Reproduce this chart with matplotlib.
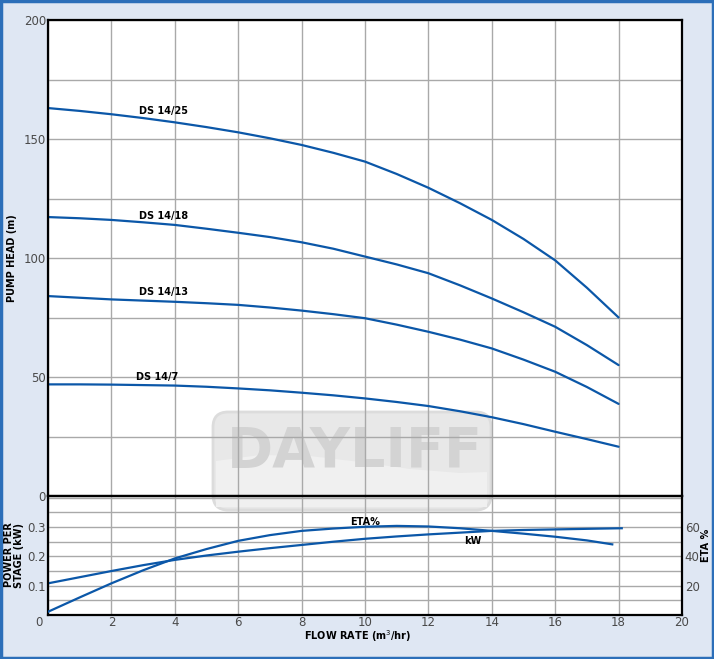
import matplotlib
matplotlib.use('Agg')
import matplotlib.pyplot as plt
from matplotlib.patches import Rectangle, FancyBboxPatch, Polygon
from matplotlib.transforms import ScaledTranslation
from matplotlib import font_manager

# flow rate points (m3/hr)
flow = [0, 1, 2, 3, 4, 5, 6, 7, 8, 9, 10, 11, 12, 13, 14, 15, 16, 17, 18]

# pump head curves (m)
head_25 = [163, 161.8, 160.4, 158.8, 157, 155, 152.8, 150.3, 147.5, 144.2,
           140.5, 135.3, 129.5, 123, 116, 108, 99, 87.5, 75]
head_18 = [117.2, 116.7, 116, 115, 113.9, 112.3, 110.6, 108.8, 106.6, 103.9,
           100.6, 97.3, 93.6, 88.5, 83, 77.2, 71.1, 63.4, 55]
head_13 = [84, 83.3, 82.6, 82.1, 81.6, 81, 80.3, 79.2, 77.9, 76.4,
           74.7, 72, 69, 65.7, 62, 57.3, 52.2, 45.8, 38.7]
head_7 = [46.9, 46.9, 46.8, 46.6, 46.4, 45.9, 45.2, 44.4, 43.4, 42.3,
          41, 39.5, 37.8, 35.6, 33.1, 30.2, 27, 23.9, 20.7]
curve_names = ['DS 14/25', 'DS 14/18', 'DS 14/13', 'DS 14/7']

# power per stage (kW)
flow_kw = [0, 1, 2, 3, 4, 5, 6, 7, 8, 9, 10, 11, 12, 13, 14, 15, 16, 17, 18.1]
power_kw = [0.108, 0.129, 0.150, 0.170, 0.188, 0.203, 0.216, 0.228, 0.239, 0.250,
            0.260, 0.268, 0.275, 0.281, 0.287, 0.290, 0.292, 0.294, 0.296]

# efficiency (%)
flow_eta = [0, 1, 2, 3, 4, 5, 6, 7, 8, 9, 10, 11, 12, 13, 14, 15, 16, 17, 17.8]
eta = [2.2, 12, 21.6, 30.5, 38.6, 45, 50.6, 54.5, 57.4, 59, 60.2, 60.8, 60.4,
       59.2, 57.4, 55.5, 53.4, 50.9, 48.2]

blue = '#0b57a8'
gridc = '#a9a9a9'
tickc = '#4a4a4a'
tick_fs = 8.5
lab_fs = 7

fig = plt.figure(figsize=(7.14, 6.59), dpi=100)
fig.patch.set_facecolor('#dfe7f3')

# outer blue frame
fig.patches.append(Rectangle((0.002, 0.002), 0.996, 0.996, transform=fig.transFigure,
                             facecolor='none', edgecolor='#2c6fb9', lw=2.5, zorder=-5))

# white plotting area + watermark behind the axes
L, R = 48 / 714, 682 / 714
fig.patches.append(Rectangle((L, 44 / 659), R - L, 595 / 659, transform=fig.transFigure,
                             facecolor='white', edgecolor='none', zorder=-4))

try:
    font_manager.findfont('Liberation Sans Narrow', fallback_to_default=False)
    wm_font, wm_size = 'Liberation Sans Narrow', 51
except Exception:
    wm_font, wm_size = 'DejaVu Sans', 40

box = FancyBboxPatch((2.28, 1.64), 2.48, 0.68, boxstyle='round,pad=0.15',
                     transform=fig.dpi_scale_trans, facecolor='#e8e8e8',
                     edgecolor='#dcdcdc', lw=2, zorder=-3)
fig.patches.append(box)
wave = Polygon([(2.16, 1.98), (2.6, 2.04), (3.1, 2.03), (3.6, 1.97), (4.1, 1.90),
                (4.6, 1.86), (4.87, 1.87), (4.87, 1.52), (2.16, 1.52)],
               closed=True, transform=fig.dpi_scale_trans, facecolor='#f0f0f0',
               edgecolor='none', zorder=-3)
fig.patches.append(wave)
fig.text(3.55, 2.07, 'DAYLIFF', transform=fig.dpi_scale_trans, ha='center', va='center',
         fontsize=wm_size, fontweight='bold', family=wm_font, color='#d3d3d3', zorder=-2)

# ---- head curves
ax = fig.add_axes([L, 163 / 659, R - L, 476 / 659])
ax.set_facecolor('none')
for h in [head_25, head_18, head_13, head_7]:
    ax.plot(flow, h, color=blue, lw=1.6, solid_capstyle='round')

ax.set_xlim(0, 20)
ax.set_ylim(0, 200)
ax.set_xticks(range(0, 21, 2))
ax.set_xticklabels([])
ax.set_yticks(range(0, 201, 25))
ax.set_yticklabels(['0', '', '50', '', '100', '', '150', '', '200'])
ax.grid(True, color=gridc, lw=1.0)
ax.tick_params(length=0, pad=1.5, labelsize=tick_fs, labelcolor=tickc)
for s in ax.spines.values():
    s.set_linewidth(1.6)
    s.set_color('black')

label_pos = [(3.63, 161.8), (3.63, 117.6), (3.63, 85.8), (3.44, 50)]
for name, (lx, ly) in zip(curve_names, label_pos):
    ax.text(lx, ly, name, ha='center', va='center', fontsize=lab_fs, fontweight='bold')

fig.text(12 / 714, 1 - 258 / 659, 'PUMP HEAD (m)', rotation=90, ha='center', va='center',
         fontsize=lab_fs, fontweight='bold')

# ---- power / efficiency
ax2 = fig.add_axes([L, 44 / 659, R - L, 119 / 659])
ax2.set_facecolor('none')
ax2.plot(flow_kw, power_kw, color=blue, lw=1.6)
ax2.set_xlim(0, 20)
ax2.set_ylim(0, 0.406)
ax2.set_xticks(range(0, 21, 2))
ax2.set_yticks([0.05, 0.1, 0.15, 0.2, 0.25, 0.3, 0.35, 0.4])
ax2.set_yticklabels(['', '0.1', '', '0.2', '', '0.3', '', ''])
ax2.grid(True, color=gridc, lw=1.0)
ax2.tick_params(length=0, pad=1.5, labelsize=tick_fs, labelcolor=tickc)
ax2.tick_params(axis='x', pad=0.5)
for s in ax2.spines.values():
    s.set_linewidth(1.6)
    s.set_color('black')
zero_lab = ax2.get_xticklabels()[0]
zero_lab.set_transform(zero_lab.get_transform() + ScaledTranslation(-0.09, 0, fig.dpi_scale_trans))

ax3 = ax2.twinx()
ax3.plot(flow_eta, eta, color=blue, lw=1.6)
ax3.set_ylim(0, 81.2)
ax3.set_yticks([20, 40, 60])
ax3.tick_params(length=0, pad=2, labelsize=tick_fs, labelcolor=tickc)
for s in ax3.spines.values():
    s.set_visible(False)

ax2.text(10, 0.318, 'ETA%', ha='center', va='center', fontsize=lab_fs, fontweight='bold')
ax2.text(13.4, 0.253, 'kW', ha='center', va='center', fontsize=lab_fs, fontweight='bold')

fig.text(14 / 714, 1 - 555 / 659, 'POWER PER\nSTAGE (kW)', rotation=90, ha='center',
         va='center', fontsize=lab_fs, fontweight='bold', linespacing=0.95)
fig.text(706 / 714, 1 - 545 / 659, 'ETA %', rotation=90, ha='center', va='center',
         fontsize=lab_fs, fontweight='bold')
fig.text(358 / 714, 1 - 636 / 659, 'FLOW RATE (m$^3$/hr)', ha='center', va='center',
         fontsize=lab_fs, fontweight='bold')

fig.savefig('out.png', dpi=100, facecolor=fig.get_facecolor())
